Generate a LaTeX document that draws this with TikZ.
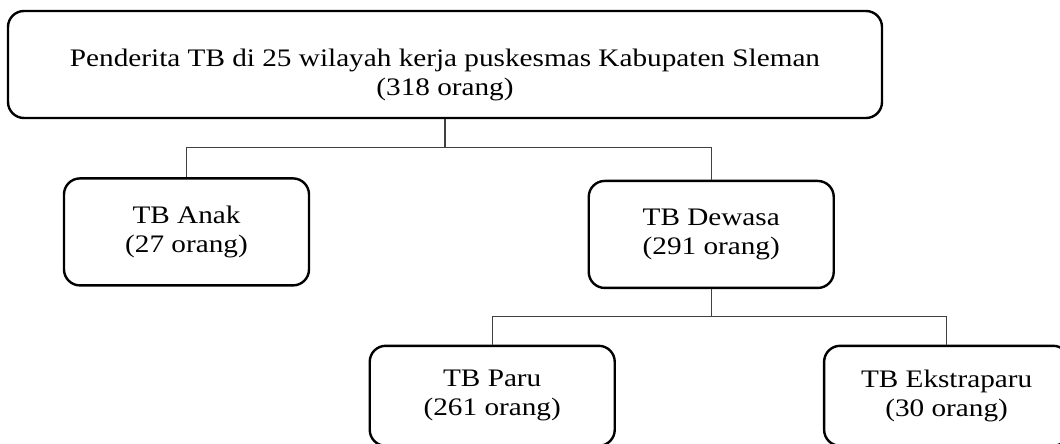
\documentclass[tikz,border=0pt]{standalone}
\usepackage{fontspec}
\setmainfont{Liberation Serif}[FakeStretch=1.16]
\usetikzlibrary{positioning}
\newcommand{\topstrut}{\rule{0pt}{29.5pt}}

\begin{document}
\begin{tikzpicture}[
  x=0.75pt, y=-0.75pt,
  font=\fontsize{18.9}{21.75}\selectfont,
  box/.style={draw, line width=1.8pt, rounded corners=12pt, align=center, minimum width=183.75pt, minimum height=80.25pt, inner sep=0pt},
  lowbox/.style={box, minimum height=75pt},
  conn/.style={draw=black!75, line width=0.9pt}
]
\useasboundingbox (0,0) rectangle (1060,443);

\node[box, minimum width=655.5pt] (penderita) at (445,64.5) {\topstrut Penderita TB di 25 wilayah kerja puskesmas Kabupaten Sleman\\(318 orang)};
\node[box, below right=43.5pt and 42pt of penderita.south west, anchor=north west] (anak) {TB Anak\\(27 orang)};
\node[box, right=208pt of anak, yshift=-1.9pt] (dewasa) {TB Dewasa\\(291 orang)};
\node[lowbox, below=41.6pt of dewasa.south, xshift=-164.25pt] (paru) {TB Paru\\(261 orang)};
\node[lowbox, right=155.25pt of paru] (ekstraparu) {TB Ekstraparu\\(30 orang)};

\draw[conn] (penderita.south) -- ++(0,28) -| (anak.north);
\draw[conn] (penderita.south) -- ++(0,28) -| (dewasa.north);
\draw[conn] (dewasa.south) -- ++(0,27) -| (paru.north);
\draw[conn] (dewasa.south) -- ++(0,27) -| (ekstraparu.north);

\end{tikzpicture}
\end{document}
